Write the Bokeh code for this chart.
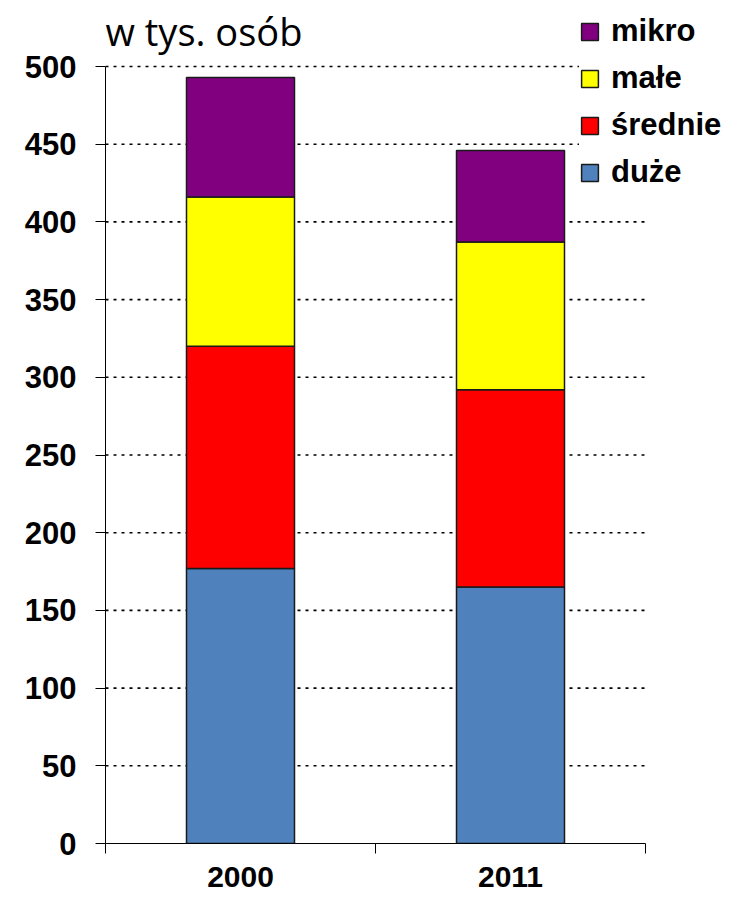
from bokeh.plotting import figure
from bokeh.models import ColumnDataSource, Range1d, FixedTicker, Legend, LegendItem, Label
from bokeh.embed import file_html
from bokeh.resources import INLINE

# ---- data ----
years = ["2000", "2011"]
duze = [177, 165]
srednie = [143, 127]
male = [96, 95]
mikro = [77, 59]
series = ["duze", "srednie", "male", "mikro"]
series_labels = ["duże", "średnie", "małe", "mikro"]
colors = ["#4F81BD", "#FF0000", "#FFFF00", "#800080"]
y_ticks = list(range(0, 501, 50))
y_max = 500
title_text = "w tys. osób"

# ---- layout constants (pixels) ----
W, H = 730, 893
left_px, bottom_px = 105, 50
plot_w_px, plot_h_px = 540, 777   # area covered by the axes
frame_w, frame_h = W - left_px, H - bottom_px

n = len(years)
x_end = n * frame_w / plot_w_px
y_end = y_max * frame_h / plot_h_px

x_pos = [i + 0.5 for i in range(n)]
source = ColumnDataSource(dict(x=x_pos, duze=duze, srednie=srednie, male=male, mikro=mikro))
grid_src = ColumnDataSource(dict(y=y_ticks[1:], x0=[0] * (len(y_ticks) - 1), x1=[n] * (len(y_ticks) - 1)))

p = figure(width=W, height=H, output_backend="svg", toolbar_location=None, title=None,
           x_range=Range1d(0, x_end), y_range=Range1d(0, y_end),
           min_border_left=left_px, min_border_right=0, min_border_top=0, min_border_bottom=bottom_px)

p.outline_line_color = None
p.xgrid.visible = False
p.ygrid.visible = False

# dotted horizontal gridlines, limited to the axis extent
p.segment(x0="x0", x1="x1", y0="y", y1="y", source=grid_src,
          line_color="black", line_dash="3 5", line_width=1.6)

renderers = p.vbar_stack(series, x="x", width=0.4, source=source,
                         fill_color=colors, line_color="#1a1a1a", line_width=1.5)

# y axis
ya = p.yaxis[0]
ya.bounds = (0, y_max)
ya.ticker = FixedTicker(ticks=y_ticks)
ya.major_tick_out = 10
ya.major_tick_in = 0
ya.minor_tick_line_color = None
ya.axis_line_color = "black"
ya.major_tick_line_color = "black"
ya.major_label_text_font = "Liberation Sans"
ya.major_label_text_font_style = "bold"
ya.major_label_text_font_size = "31px"
ya.major_label_text_color = "black"
ya.major_label_standoff = 19

# x axis
xa = p.xaxis[0]
xa.bounds = (0, n)
xa.ticker = FixedTicker(ticks=x_pos, minor_ticks=list(range(n + 1)))
xa.major_label_overrides = {x: y for x, y in zip(x_pos, years)}
xa.major_tick_out = 0
xa.major_tick_in = 0
xa.minor_tick_out = 10
xa.minor_tick_in = 0
xa.minor_tick_line_color = "black"
xa.axis_line_color = "black"
xa.major_label_text_font = "Liberation Sans"
xa.major_label_text_font_style = "bold"
xa.major_label_text_font_size = "30px"
xa.major_label_text_color = "black"
xa.major_label_standoff = 13

# title text
title = Label(x=0, y=frame_h - 30, x_units="screen", y_units="screen", text=title_text,
              text_font="Open Sans", text_font_size="38px", text_color="black",
              text_baseline="alphabetic", text_align="left")
p.add_layout(title)

# legend (top item = mikro)
items = [LegendItem(label=lab, renderers=[r]) for lab, r in zip(series_labels, renderers)][::-1]
legend = Legend(items=items, location=(474, 653),
                label_text_font="Liberation Sans", label_text_font_style="bold",
                label_text_font_size="31px", label_text_color="black",
                glyph_width=21, glyph_height=21, label_standoff=11,
                spacing=11, padding=10, margin=0,
                border_line_color=None, background_fill_color="white", background_fill_alpha=1.0)
p.add_layout(legend, "center")

open("out.html", "w").write(file_html(p, INLINE))
